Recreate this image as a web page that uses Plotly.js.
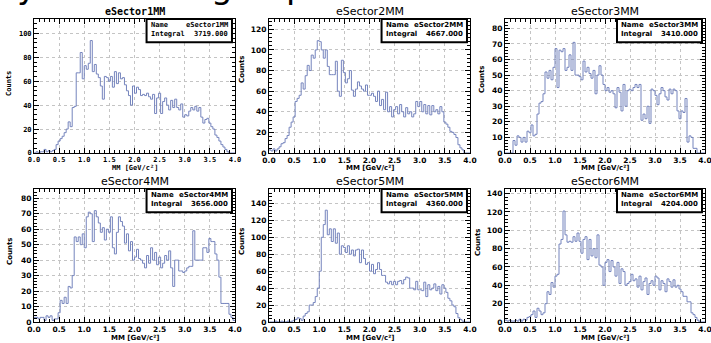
<!DOCTYPE html>
<html>
<head>
<meta charset="utf-8">
<script src="https://cdn.plot.ly/plotly-3.0.1.min.js"></script>
<style>body{margin:0;background:#fff;} #chart{width:711px;height:343px;}</style>
</head>
<body>
<div id="chart"></div>
<script>
// ---- data: 100 bins of MM [GeV/c^2] from 0.0 to 4.0 ----
const binLow = 0.0, binHigh = 4.0, nBins = 100;
const sectorNames = ["eSector1MM","eSector2MM","eSector3MM","eSector4MM","eSector5MM","eSector6MM"];
const integrals = ["3719.000","4667.000","3410.000","3656.000","4360.000","4204.000"];

const sector1 = [0,1,0,1,1,3,1,2,1,2, 3,7,10,12,14,17,20,26,22,38, 39,67,67,84,62,73,70,75,94,68,
  74,66,63,56,45,64,63,60,64,55, 68,58,67,62,63,57,52,48,40,56, 50,55,53,48,49,48,50,47,45,49,
  33,46,50,33,43,46,40,36,44,38, 45,38,36,41,30,32,31,35,38,36, 39,35,38,30,25,28,29,25,22,20,
  15,13,10,7,5,3,1,0,0,0];
const sector2 = [3,2,4,2,4,6,9,10,14,17, 25,30,35,50,53,56,68,62,75,85, 80,95,92,100,109,108,100,92,100,84,
  76,76,76,89,60,55,90,78,68,72, 80,61,55,62,69,65,62,60,66,56, 56,58,55,50,60,46,52,42,59,40,
  45,35,42,45,38,47,40,35,44,38, 40,35,38,50,45,50,40,47,38,46, 37,46,40,42,38,45,40,30,28,25,
  21,20,18,15,8,5,3,0,0,0];
const sector3 = [0,0,0,0,8,5,11,10,7,10, 7,14,13,18,11,12,25,32,33,38, 52,48,53,47,55,67,42,66,65,67,
  53,55,63,53,71,50,50,49,47,59, 52,55,51,48,53,38,50,56,50,44, 40,42,39,40,38,29,42,39,27,44,
  30,40,41,40,42,44,42,44,21,25, 22,30,19,41,40,37,31,38,42,40, 36,34,41,38,41,40,27,22,27,26,
  35,7,11,10,3,3,0,0,0,0];
const sector4 = [3,3,2,3,3,1,4,3,4,1, 2,2,6,14,12,16,12,23,22,30, 55,52,55,50,57,48,68,71,70,52,
  72,68,64,58,61,53,60,58,68,48, 44,58,68,65,62,51,57,46,52,40, 42,47,41,40,38,35,43,38,48,40,
  45,37,42,35,38,43,40,46,35,23, 40,40,33,33,32,33,35,36,36,59, 40,40,40,40,48,48,45,54,52,52,
  44,40,29,12,12,12,12,5,3,1];
const sector5 = [0,0,0,1,0,0,1,0,0,1, 0,1,2,3,5,4,2,7,10,12, 20,20,23,30,40,60,100,115,132,103,
  110,95,110,93,105,80,90,88,82,90, 80,85,78,85,86,70,85,75,68,70, 60,68,57,62,70,62,55,55,47,45,
  48,44,48,44,48,49,45,50,53,52, 40,40,38,48,38,38,37,47,30,44, 38,40,45,37,42,33,44,40,35,28,
  25,20,18,10,5,3,1,0,0,0];
const sector6 = [2,1,2,1,1,2,1,3,1,3, 2,5,6,8,12,5,15,12,8,10, 20,33,30,43,38,50,52,85,90,121,
  95,87,88,87,93,88,97,88,75,90, 93,68,90,72,80,70,95,62,60,40, 65,68,55,67,60,50,65,42,58,55,
  40,42,44,52,45,47,38,50,35,44, 48,30,42,45,40,50,48,35,45,42, 33,47,44,38,46,38,40,36,33,28,
  28,22,22,10,8,5,2,0,0,0];

const yMax = [112, 130, 86, 86, 157, 145];
const yDtick = [20, 20, 10, 10, 20, 20];
const yMinor = [4, 4, 2, 2, 4, 4];
const xTitle = "MM [GeV/c²]";
const yTitle = "Counts";

// ---- layout geometry (px) ----
const W = 711, H = 343;
const colX = [[34,235],[269,470],[505,705]];
const rowY = [[19,153],[189,322]];
const titleY = [12, 181];
const xTitleY = [168, 338];
const countsPos = [[9,84],[242,70],[482,80],[10,252],[242,242],[478,243]];
const lineColor = "#7584bd";

const series = [sector1, sector2, sector3, sector4, sector5, sector6];
const binW = (binHigh - binLow) / nBins;
const edges = [];
for (let i = 0; i <= nBins; i++) edges.push(+(binLow + i * binW).toFixed(4));

const traces = [];
const layout = {
  width: W, height: H, margin: {l:0, r:0, t:0, b:0},
  paper_bgcolor: "#ffffff", plot_bgcolor: "#ffffff", showlegend: false,
  annotations: [], shapes: []
};

for (let i = 0; i < 6; i++) {
  const col = i % 3, row = Math.floor(i / 3);
  const ax = i === 0 ? "" : String(i + 1);
  const mono = (i === 0);
  const fam = mono ? "DejaVu Sans Mono" : "DejaVu Sans";
  const tickSize = mono ? 7 : 7.5;
  const vals = series[i];
  traces.push({
    type: "scatter", mode: "lines",
    x: edges, y: vals.concat([vals[vals.length - 1]]),
    line: {shape: "hv", color: lineColor, width: 1},
    xaxis: "x" + ax, yaxis: "y" + ax, hoverinfo: "skip"
  });
  const [x0, x1] = colX[col];
  const [y0, y1] = rowY[row];
  const common = {
    showline: true, linecolor: "#000", linewidth: 1, mirror: "ticks",
    ticks: "inside", ticklen: 5, tickcolor: "#000", tickwidth: 1,
    showgrid: true, gridcolor: "#c4c4c4", griddash: "dot", gridwidth: 1,
    zeroline: false, fixedrange: true, ticklabeloverflow: "allow",
    tickfont: {family: fam, size: tickSize, color: "#000", weight: "bold"}
  };
  layout["xaxis" + ax] = Object.assign({}, common, {
    domain: [x0 / W, x1 / W], anchor: "y" + ax, range: [binLow, binHigh],
    tick0: 0, dtick: 0.5, tickformat: ".1f",
    minor: {ticks: "inside", ticklen: 3, dtick: 0.1, tickcolor: "#000", showgrid: false}
  });
  layout["yaxis" + ax] = Object.assign({}, common, {
    domain: [1 - y1 / H, 1 - y0 / H], anchor: "x" + ax, range: [0, yMax[i]],
    tick0: 0, dtick: yDtick[i],
    minor: {ticks: "inside", ticklen: 3, dtick: yMinor[i], tickcolor: "#000", showgrid: false}
  });
  const cx = (x0 + x1) / 2 / W;
  layout.annotations.push({
    text: sectorNames[i], xref: "paper", yref: "paper", x: cx, y: 1 - titleY[row] / H,
    xanchor: "center", yanchor: "middle", showarrow: false,
    font: {family: fam, size: mono ? 10 : 11, color: "#000", weight: mono ? "bold" : "normal"}
  });
  layout.annotations.push({
    text: xTitle, xref: "paper", yref: "paper", x: cx, y: 1 - xTitleY[row] / H,
    xanchor: "center", yanchor: "middle", showarrow: false,
    font: {family: fam, size: 7, color: "#000", weight: "bold"}
  });
  layout.annotations.push({
    text: yTitle, xref: "paper", yref: "paper", x: countsPos[i][0] / W, y: 1 - countsPos[i][1] / H,
    xanchor: "center", yanchor: "middle", showarrow: false, textangle: -90,
    font: {family: fam, size: 7, color: "#000", weight: "bold"}
  });
  // stats box
  const xr = "x" + ax + " domain", yr = "y" + ax + " domain";
  const bx0 = 0.56, bx1 = 0.985, by0 = 0.826, by1 = 1.0;
  layout.shapes.push({type: "rect", xref: xr, yref: yr, x0: bx0, x1: bx1, y0: by0, y1: by1,
    line: {color: "#000", width: 2}, fillcolor: "#fff", layer: "above"});
  const sf = {family: fam, size: 7, color: "#000", weight: "bold"};
  const rowsTxt = [["Name", sectorNames[i]], ["Integral", integrals[i]]];
  const rowYs = [0.952, 0.885];
  for (let r = 0; r < 2; r++) {
    layout.annotations.push({text: rowsTxt[r][0], xref: xr, yref: yr, x: bx0 + 0.012, y: rowYs[r],
      xanchor: "left", yanchor: "middle", showarrow: false, font: sf});
    layout.annotations.push({text: rowsTxt[r][1], xref: xr, yref: yr, x: bx1 - 0.012, y: rowYs[r],
      xanchor: "right", yanchor: "middle", showarrow: false, font: sf});
  }
}

// cut-off glyph descenders of a large text at the top edge
const topGlyphs = [["y", 27], ["g", 222], ["p", 297]];
for (const [g, px] of topGlyphs) {
  layout.annotations.push({text: g, xref: "paper", yref: "paper", x: px / W, y: 1 + 14 / H,
    xanchor: "center", yanchor: "middle", showarrow: false,
    font: {family: "DejaVu Sans", size: 34, color: "#000"}});
}

Plotly.newPlot("chart", traces, layout, {staticPlot: true, displayModeBar: false});
</script>
</body>
</html>
